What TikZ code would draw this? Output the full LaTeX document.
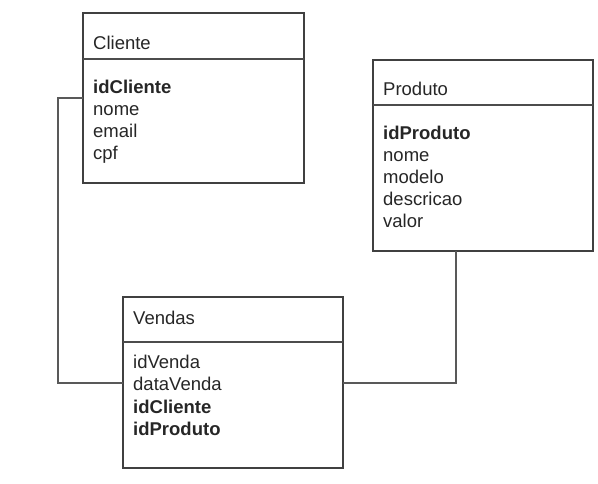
\documentclass[tikz,border=0pt]{standalone}
\usepackage{fontspec}
\setmainfont{Liberation Sans}
\begin{document}
\begin{tikzpicture}[x=1pt,y=-1pt,
  box/.style={draw=black!75,line width=1.2pt,inner sep=0pt,outer sep=0pt,anchor=north west},
  divider/.style={draw=black!70,line width=1.1pt},
  link/.style={draw=black!65,line width=1.2pt},
  txt/.style={anchor=base west,inner sep=0pt,font=\fontsize{18.5}{22}\selectfont,text=black!85},
  key/.style={txt,font=\fontsize{18.5}{22}\selectfont\bfseries}]
\useasboundingbox (0,0) rectangle (598,484);
% Cliente
\node[box,minimum width=221pt,minimum height=170pt] (cli) at (83,13) {};
\draw[divider] (83,59) -- (304,59);
\node[txt] (clit) at (93,50) {Cliente};
\node[key] (cli1) at (93,94) {idCliente};
\node[txt] (cli2) at (93,116) {nome};
\node[txt] (cli3) at (93,138) {email};
\node[txt] (cli4) at (93,160) {cpf};
% Produto
\node[box,minimum width=220pt,minimum height=191pt] (pro) at (373,60) {};
\draw[divider] (373,105) -- (593,105);
\node[txt] (prot) at (383,96) {Produto};
\node[key] (pro1) at (383,140) {idProduto};
\node[txt] (pro2) at (383,162) {nome};
\node[txt] (pro3) at (383,184) {modelo};
\node[txt] (pro4) at (383,206) {descricao};
\node[txt] (pro5) at (383,228) {valor};
% Vendas
\node[box,minimum width=220pt,minimum height=171pt] (ven) at (123,297) {};
\draw[divider] (123,342) -- (343,342);
\node[txt] (vent) at (133,324) {Vendas};
\node[txt] (ven1) at (133,368) {idVenda};
\node[txt] (ven2) at (133,390) {dataVenda};
\node[key] (ven3) at (133,413) {idCliente};
\node[key] (ven4) at (133,435) {idProduto};
% connectors
\coordinate (ca) at (58,98);
\coordinate (cb) at (58,383);
\coordinate (pa) at (456,383);
\draw[link] (cli.west |- ca) -- (ca) -- (cb) -- (ven.west |- cb);
\draw[link] (pro.south -| pa) -- (pa) -- (ven.east |- pa);
\end{tikzpicture}
\end{document}
